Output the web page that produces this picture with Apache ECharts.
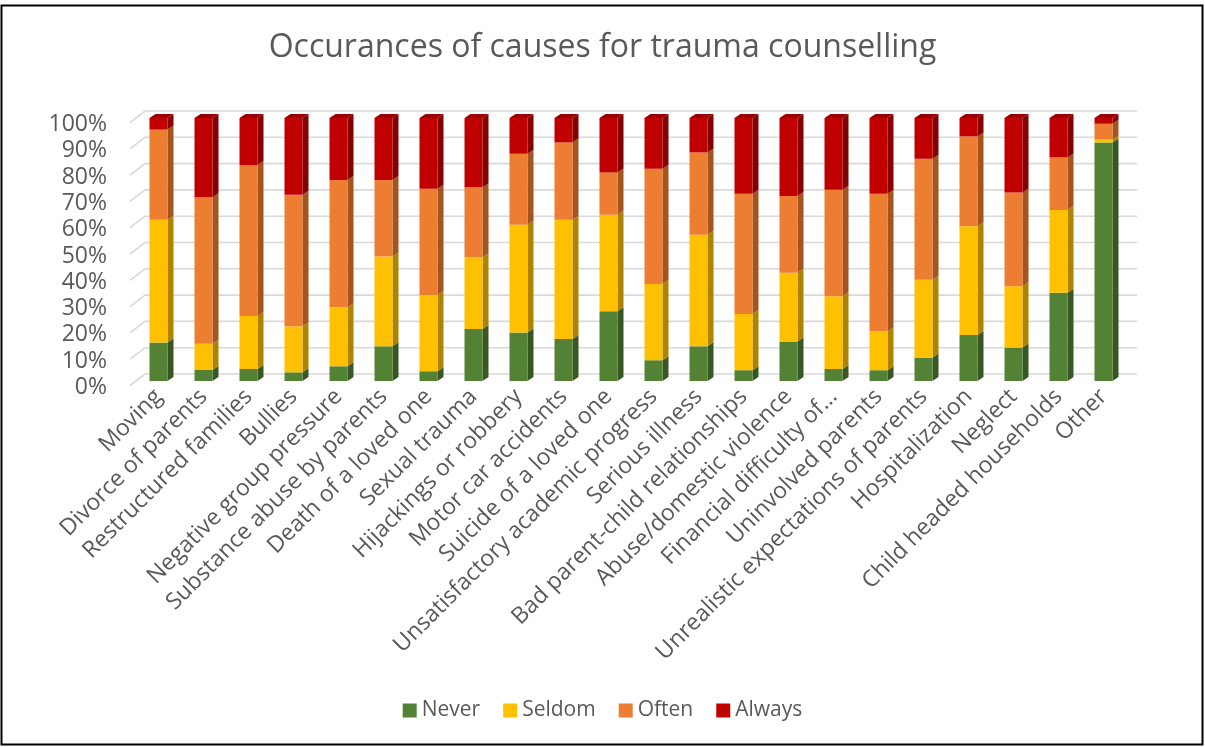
<!DOCTYPE html>
<html>
<head>
<meta charset="utf-8">
<title>Occurances of causes for trauma counselling</title>
<script src="https://cdn.jsdelivr.net/npm/echarts@6/dist/echarts.min.js"></script>
<style>
  html, body { margin: 0; padding: 0; background: #fff; }
  #chart { width: 1205px; height: 747px; }
</style>
</head>
<body>
<div id="chart"></div>
<script>
// Causes listed along the horizontal axis
const categories = [
  'Moving', 'Divorce of parents', 'Restructured families', 'Bullies',
  'Negative group pressure', 'Substance abuse by parents', 'Death of a loved one',
  'Sexual trauma', 'Hijackings or robbery', 'Motor car accidents',
  'Suicide of a loved one', 'Unsatisfactory academic progress', 'Serious illness',
  'Bad parent-child relationships', 'Abuse/domestic violence',
  'Financial difficulty of\u2026', 'Uninvolved parents',
  'Unrealistic expectations of parents', 'Hospitalization', 'Neglect',
  'Child headed households', 'Other'
];

// Share of responses (%) per frequency level
const never  = [14.6, 4.2, 4.6, 3.3, 5.6, 13.2, 3.7, 19.8, 18.4, 16.0, 26.5, 7.9, 13.2, 4.1, 15.0, 4.6, 4.1, 8.9, 17.5, 12.7, 33.6, 90.7];
const seldom = [46.7, 10.0, 20.1, 17.5, 22.4, 34.1, 29.0, 27.3, 41.0, 45.3, 36.7, 29.0, 42.4, 21.4, 26.2, 27.6, 14.8, 29.6, 41.3, 23.3, 31.4, 1.1];
const often  = [34.3, 55.7, 57.4, 50.0, 48.4, 29.1, 40.4, 26.6, 27.0, 29.4, 16.1, 43.8, 31.3, 45.7, 29.1, 40.5, 52.3, 46.0, 34.2, 35.7, 20.0, 6.0];
const always = [4.4, 30.1, 17.9, 29.2, 23.6, 23.6, 26.9, 26.3, 13.6, 9.3, 20.7, 19.3, 13.1, 28.8, 29.7, 27.3, 28.8, 15.5, 7.0, 28.3, 15.0, 2.2];

// Value axis ticks (percent)
const yTicks = [0, 10, 20, 30, 40, 50, 60, 70, 80, 90, 100];

const seriesNames = ['Never', 'Seldom', 'Often', 'Always'];
const seriesValues = [never, seldom, often, always];
const frontColors = ['#548235', '#FFC000', '#ED7D31', '#C00000'];
const sideColors  = ['#385723', '#AE8300', '#A3541F', '#850000'];
const topColors   = ['#6A9A48', '#FFD040', '#F29A5E', '#9A0000'];

// Depth of the pseudo-3D columns
const DEPTH_X = 6;
const DEPTH_Y = 4;

// Build stacked [category, base, top] rows for each level
const stackedRows = (function () {
  const base = categories.map(() => 0);
  return seriesValues.map(vals => vals.map((v, i) => {
    const row = [i, base[i], base[i] + v];
    base[i] += v;
    return row;
  }));
})();

function columnRenderer(levelIndex) {
  const isTop = levelIndex === seriesValues.length - 1;
  return function (params, api) {
    const cat = api.value(0);
    const p0 = api.coord([cat, api.value(1)]);
    const p1 = api.coord([cat, api.value(2)]);
    const band = api.size([1, 0])[0];
    const w = band * 0.4;
    const xl = p0[0] - w / 2;
    const xr = p0[0] + w / 2;
    const yb = p0[1];
    const yt = p1[1];
    const children = [
      {
        type: 'polygon',
        shape: { points: [[xr, yt], [xr + DEPTH_X, yt - DEPTH_Y], [xr + DEPTH_X, yb - DEPTH_Y], [xr, yb]] },
        style: { fill: sideColors[levelIndex] }
      },
      {
        type: 'rect',
        shape: { x: xl, y: yt, width: w, height: yb - yt },
        style: { fill: frontColors[levelIndex] }
      }
    ];
    if (isTop) {
      children.push({
        type: 'polygon',
        shape: { points: [[xl, yt], [xl + DEPTH_X, yt - DEPTH_Y], [xr + DEPTH_X, yt - DEPTH_Y], [xr, yt]] },
        style: { fill: topColors[levelIndex] }
      });
    }
    return { type: 'group', children: children };
  };
}

// Back-wall gridlines with a slanted side-wall segment on the left
function wallRenderer(params, api) {
  const cs = params.coordSys;
  const y = api.coord([0, api.value(0)])[1] - 7;
  return {
    type: 'polyline',
    shape: { points: [[cs.x - 6, y + 11.5], [cs.x + 9, y], [cs.x + cs.width + 11, y]] },
    style: { stroke: '#D9D9D9', lineWidth: 1.6, fill: null },
    silent: true
  };
}

const chart = echarts.init(document.getElementById('chart'), null, { renderer: 'canvas' });

const series = [{
  type: 'custom',
  name: 'wall',
  renderItem: wallRenderer,
  data: yTicks.map(t => [t]),
  encode: { y: 0 },
  z: 1,
  silent: true,
  clip: false
}];

seriesNames.forEach((name, k) => {
  series.push({
    type: 'custom',
    name: name,
    renderItem: columnRenderer(k),
    itemStyle: { color: frontColors[k] },
    data: stackedRows[k],
    encode: { x: 0, y: [1, 2] },
    z: 2 + k,
    clip: false
  });
});

chart.setOption({
  animation: false,
  backgroundColor: '#fff',
  textStyle: { fontFamily: 'Open Sans' },
  title: {
    text: 'Occurances of causes for trauma counselling',
    left: 'center',
    top: 27,
    textStyle: { fontFamily: 'Open Sans', fontSize: 32, fontWeight: 'normal', color: '#595959' }
  },
  legend: {
    data: seriesNames,
    bottom: 21,
    left: 'center',
    icon: 'rect',
    itemWidth: 14,
    itemHeight: 14,
    itemGap: 23,
    textStyle: { fontFamily: 'Open Sans', fontSize: 21, color: '#595959' }
  },
  grid: { left: 136, right: 79, top: 118, bottom: 366, containLabel: false },
  xAxis: {
    type: 'category',
    data: categories,
    axisLine: { show: false },
    axisTick: { show: false },
    axisLabel: {
      interval: 0,
      rotate: 45,
      margin: 12,
      fontFamily: 'Open Sans',
      fontSize: 23,
      color: '#595959'
    }
  },
  yAxis: {
    type: 'value',
    min: 0,
    max: 100,
    interval: 10,
    axisLine: { show: false },
    axisTick: { show: false },
    splitLine: { show: false },
    axisLabel: {
      formatter: '{value}%',
      margin: 29,
      verticalAlign: 'top',
      lineHeight: 13,
      fontFamily: 'Open Sans',
      fontSize: 23,
      color: '#595959'
    }
  },
  graphic: [{
    type: 'rect',
    shape: { x: 1.5, y: 5.5, width: 1201, height: 739 },
    style: { fill: null, stroke: '#000', lineWidth: 2 },
    silent: true,
    z: 100
  }],
  series: series
});
</script>
</body>
</html>
